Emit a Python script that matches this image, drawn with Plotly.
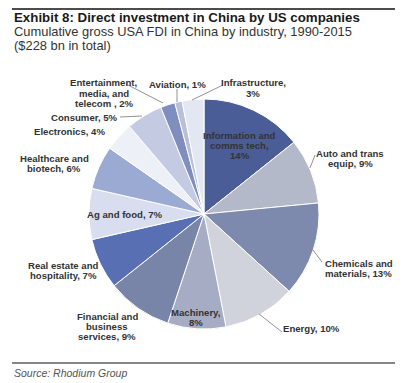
import plotly.graph_objects as go

W, H = 402, 383

industries = [
    "Information and comms tech", "Auto and trans equip", "Chemicals and materials",
    "Energy", "Machinery", "Financial and business services",
    "Real estate and hospitality", "Ag and food", "Healthcare and biotech",
    "Electronics", "Consumer", "Entertainment, media, and telecom",
    "Aviation", "Infrastructure",
]
shares = [14, 9, 13, 10, 8, 9, 7, 7, 6, 4, 5, 2, 1, 3]
label_lines = [
    ["Information and", "comms tech,", "14%"], ["Auto and trans", "equip, 9%"],
    ["Chemicals and", "materials, 13%"], ["Energy, 10%"], ["Machinery,", "8%"],
    ["Financial and", "business", "services, 9%"], ["Real estate and", "hospitality, 7%"],
    ["Ag and food, 7%"], ["Healthcare and", "biotech, 6%"], ["Electronics, 4%"],
    ["Consumer, 5%"], ["Entertainment,", "media, and", "telecom , 2%"],
    ["Aviation, 1%"], ["Infrastructure,", "3%"],
]
colors = [
    "#4b5d96", "#b4b9c9", "#7d8aae", "#d0d3db", "#a5acc3", "#7884a8",
    "#5870b3", "#d8deef", "#9aaad2", "#eef0f7", "#c3cae1", "#7f8ebf",
    "#b7bfd9", "#e3e7f2",
]

def X(px):
    return px / W

def Y(py):
    return 1 - py / H

cx, cy, r = 204, 214, 115

fig = go.Figure(go.Pie(
    labels=industries, values=shares, sort=False, direction="clockwise",
    rotation=0, textinfo="none", hoverinfo="label+percent",
    marker=dict(colors=colors, line=dict(color="white", width=1)),
    domain=dict(x=[X(cx - r), X(cx + r)], y=[Y(cy + r), Y(cy - r)]),
    showlegend=False,
))

# label placements: (x, centre y, anchor)
label_pos = [
    (240, 145, "center"), (350, 158, "center"), (323, 268, "left"),
    (311, 328, "center"), (196, 317, "center"), (107, 326, "center"),
    (63, 270, "center"), (125, 214, "center"), (54, 163, "center"),
    (69, 131, "center"), (84, 117, "center"), (104, 93, "center"),
    (177, 84, "center"), (253, 88, "center"),
]
LS = 10  # line spacing px

font_family = "Liberation Sans, Arial, sans-serif"
annotations = []
for lines, (px, py, al) in zip(label_lines, label_pos):
    n = len(lines)
    for i, ln in enumerate(lines):
        yy = py + (i - (n - 1) / 2) * LS
        annotations.append(dict(
            x=X(px), y=Y(yy), xref="paper", yref="paper", text="<b>" + ln + "</b>",
            showarrow=False, xanchor=al, yanchor="middle",
            font=dict(family=font_family, size=9.6, color="#333333"),
        ))

annotations += [
    dict(x=X(12), y=Y(17), xref="paper", yref="paper", xanchor="left", yanchor="middle",
         text="<b>Exhibit 8: Direct investment in China by US companies</b>", showarrow=False,
         font=dict(family=font_family, size=13.3, color="#1a1a1a")),
    dict(x=X(12), y=Y(31.5), xref="paper", yref="paper", xanchor="left", yanchor="middle",
         text="Cumulative gross USA FDI in China by industry, 1990-2015",
         showarrow=False, font=dict(family=font_family, size=12.9, color="#333333")),
    dict(x=X(12), y=Y(45.5), xref="paper", yref="paper", xanchor="left", yanchor="middle",
         text="($228 bn in total)",
         showarrow=False, font=dict(family=font_family, size=12.9, color="#333333")),
    dict(x=X(12), y=Y(373), xref="paper", yref="paper", xanchor="left", yanchor="middle",
         text="<i>Source: Rhodium Group</i>", showarrow=False,
         font=dict(family=font_family, size=10.5, color="#555555")),
]

leaders = [
    (126, 84, 163, 103), (177, 89, 177, 102), (223, 85, 192, 100),
    (120, 117, 142, 116), (315, 155, 310, 168), (322, 262, 313, 250),
    (282, 332, 259, 314),
]
shapes = [dict(type="line", xref="paper", yref="paper", x0=X(a), y0=Y(b), x1=X(c), y1=Y(d),
               line=dict(color="#777777", width=0.8)) for a, b, c, d in leaders]
shapes += [
    dict(type="line", xref="paper", yref="paper", x0=X(12), x1=X(395), y0=Y(9), y1=Y(9),
         line=dict(color="#111111", width=1.5)),
    dict(type="line", xref="paper", yref="paper", x0=X(12), x1=X(395), y0=Y(363), y1=Y(363),
         line=dict(color="#111111", width=1.2)),
]

fig.update_layout(
    width=W, height=H, margin=dict(l=0, r=0, t=0, b=0),
    paper_bgcolor="white", plot_bgcolor="white",
    annotations=annotations, shapes=shapes,
)

fig.write_html("out.html", config={"displayModeBar": False},
               post_script="document.body.style.margin='0';document.body.style.overflow='hidden';")
